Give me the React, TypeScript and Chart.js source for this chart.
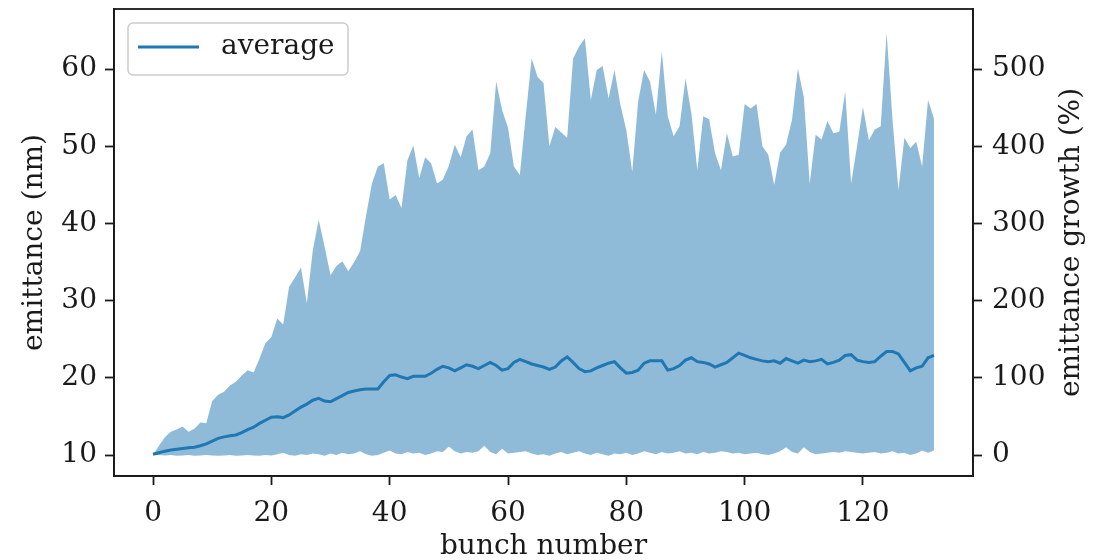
import React, { useEffect, useRef } from "react";
import { Chart, registerables } from "chart.js";

Chart.register(...registerables);

// emittance (nm) per bunch, bunch 0..132
const upperEmittance = [
  10.0, 11.2, 12.3, 13.0, 13.3, 13.7, 13.0, 13.4, 14.2, 14.1,
  17.0, 17.8, 18.2, 19.0, 19.5, 20.3, 21.0, 20.7, 22.5, 24.5,
  25.3, 27.7, 26.9, 31.8, 33.0, 34.3, 29.7, 36.5, 40.5, 37.0,
  33.3, 34.5, 35.1, 33.8, 35.0, 36.4, 41.0, 45.2, 47.4, 47.8,
  43.1, 43.7, 42.0, 48.2, 50.1, 45.9, 48.6, 47.8, 45.2, 45.7,
  47.5, 50.2, 48.6, 51.3, 52.2, 46.9, 47.4, 49.1, 58.4, 54.7,
  52.4, 47.4, 46.3, 54.0, 61.4, 59.0, 58.2, 50.0, 52.5, 51.8,
  51.1, 61.4, 62.9, 64.0, 56.0, 59.9, 60.4, 56.2, 59.9, 55.4,
  52.1, 46.7, 55.8, 59.9, 58.4, 54.1, 62.3, 53.9, 51.3, 52.6,
  58.8, 54.3, 46.9, 53.9, 53.5, 49.1, 46.9, 51.7, 48.7, 48.9,
  55.5, 54.9, 55.5, 50.0, 48.9, 45.0, 49.2, 50.2, 53.4, 60.1,
  56.4, 45.2, 51.5, 50.9, 53.3, 51.7, 51.9, 57.1, 45.2, 50.0,
  55.1, 50.8, 52.2, 52.6, 64.7, 53.4, 44.3, 51.1, 49.8, 50.6,
  47.4, 56.0, 53.6,
];

const averageEmittance = [
  10.1, 10.3, 10.5, 10.65, 10.75, 10.85, 10.95, 11.0, 11.2, 11.45,
  11.8, 12.15, 12.35, 12.5, 12.6, 12.9, 13.3, 13.6, 14.1, 14.5,
  14.9, 14.95, 14.85, 15.2, 15.7, 16.2, 16.6, 17.1, 17.35, 17.0,
  16.9, 17.3, 17.7, 18.1, 18.3, 18.45, 18.55, 18.55, 18.55, 19.5,
  20.3, 20.4, 20.1, 19.9, 20.2, 20.2, 20.2, 20.6, 21.1, 21.5,
  21.3, 20.9, 21.3, 21.7, 21.5, 21.2, 21.6, 22.0, 21.6, 21.0,
  21.2, 22.0, 22.4, 22.1, 21.8, 21.6, 21.4, 21.1, 21.4, 22.2,
  22.7, 22.0, 21.2, 20.8, 20.9, 21.3, 21.6, 21.9, 22.1, 21.3,
  20.6, 20.7, 21.0, 21.9, 22.2, 22.2, 22.2, 21.0, 21.2, 21.6,
  22.3, 22.6, 22.1, 22.0, 21.8, 21.4, 21.7, 22.0, 22.6, 23.2,
  22.9, 22.6, 22.4, 22.2, 22.1, 22.2, 21.9, 22.5, 22.2, 21.9,
  22.3, 22.1, 22.2, 22.4, 21.8, 22.0, 22.3, 22.9, 23.0, 22.3,
  22.1, 22.0, 22.1, 22.8, 23.4, 23.4, 23.1, 22.0, 20.9, 21.3,
  21.5, 22.6, 22.9,
];

const lowerEmittance = [
  10.0, 10.0, 9.95, 10.0, 9.9, 9.95, 10.0, 9.9, 9.95, 10.0,
  9.95, 9.9, 9.95, 10.0, 9.9, 9.95, 10.0, 9.95, 9.9, 10.0,
  9.95, 10.1, 10.3, 10.0, 9.9, 10.1, 10.0, 10.2, 10.1, 9.9,
  10.2, 10.0, 10.3, 10.1, 10.2, 10.5, 10.1, 9.9, 10.0, 10.3,
  10.6, 10.2, 10.1, 10.4, 10.2, 10.3, 10.0, 10.2, 10.5, 10.4,
  11.1, 10.5, 10.2, 10.4, 10.3, 10.5, 11.2, 10.4, 10.1, 10.8,
  10.2, 10.3, 10.4, 10.5, 10.2, 10.0, 10.1, 9.9, 10.2, 10.4,
  10.1, 10.3, 10.5, 10.2, 10.0, 10.3, 10.1, 9.9, 10.2, 10.1,
  10.3, 10.0, 10.2, 10.5, 10.3, 10.1, 10.4, 10.2, 10.3, 10.5,
  10.2, 10.3, 10.1, 10.4, 10.2, 10.3, 10.5, 10.4, 10.2, 10.3,
  10.1, 10.2, 10.3, 10.1, 10.0, 10.2, 10.5, 11.0, 10.4, 10.2,
  11.0, 10.4, 10.1, 10.2, 10.3, 10.4, 10.3, 10.5, 10.4, 10.3,
  10.2, 10.3, 10.4, 10.2, 10.3, 10.5, 10.2, 10.3, 10.0, 10.2,
  10.6, 10.3, 10.6,
];

const xTicks = [0, 20, 40, 60, 80, 100, 120];
const leftTicks = [10, 20, 30, 40, 50, 60];
const rightTicks = [0, 100, 200, 300, 400, 500];

const FAMILY = "'DejaVu Serif', serif";
const FS = 28;
const BLUE = "#1f77b4";
const INK = "#1a1a1a";

export default function App() {
  const ref = useRef<HTMLCanvasElement>(null);

  useEffect(() => {
    if (!ref.current) return;
    const pts = (arr: number[]) => arr.map((y, i) => ({ x: i, y }));

    const decor = {
      id: "decor",
      afterDraw(chart: any) {
        const { ctx, chartArea: a } = chart;
        ctx.save();
        // frame
        ctx.strokeStyle = INK;
        ctx.lineWidth = 1.8;
        ctx.strokeRect(a.left, a.top, a.right - a.left, a.bottom - a.top);
        // legend
        const lx = 128, ly = 23, lw = 220, lh = 52, r = 5;
        ctx.beginPath();
        ctx.moveTo(lx + r, ly);
        ctx.arcTo(lx + lw, ly, lx + lw, ly + lh, r);
        ctx.arcTo(lx + lw, ly + lh, lx, ly + lh, r);
        ctx.arcTo(lx, ly + lh, lx, ly, r);
        ctx.arcTo(lx, ly, lx + lw, ly, r);
        ctx.closePath();
        ctx.fillStyle = "rgba(255,255,255,0.8)";
        ctx.fill();
        ctx.strokeStyle = "#cccccc";
        ctx.lineWidth = 1.5;
        ctx.stroke();
        ctx.beginPath();
        ctx.moveTo(138, 47);
        ctx.lineTo(199, 47);
        ctx.strokeStyle = BLUE;
        ctx.lineWidth = 3;
        ctx.stroke();
        ctx.fillStyle = INK;
        ctx.font = `${FS}px ${FAMILY}`;
        ctx.textAlign = "left";
        ctx.textBaseline = "middle";
        ctx.fillText("average", 221, 47);
        // right axis title (reads bottom to top)
        ctx.translate(1072, (a.top + a.bottom) / 2);
        ctx.rotate(-Math.PI / 2);
        ctx.textAlign = "center";
        ctx.fillText("emittance growth (%)", 0, 0);
        ctx.restore();
      },
    };

    const tickGrid = {
      display: true,
      drawOnChartArea: false,
      drawTicks: true,
      tickLength: 9,
      tickWidth: 1.8,
      tickColor: INK,
    };
    const font = { family: FAMILY, size: FS };
    const noPad = (s: any) => {
      s.paddingTop = 0;
      s.paddingBottom = 0;
      s.paddingLeft = 0;
      s.paddingRight = 0;
    };

    const chart = new Chart(ref.current, {
      type: "line",
      data: {
        datasets: [
          {
            label: "average",
            data: pts(averageEmittance),
            borderColor: BLUE,
            borderWidth: 3,
            pointRadius: 0,
            fill: false,
            yAxisID: "y",
            order: 0,
          },
          {
            label: "max",
            data: pts(upperEmittance),
            borderColor: "rgba(0,0,0,0)",
            borderWidth: 0.01,
            backgroundColor: "rgba(31,119,180,0.5)",
            pointRadius: 0,
            fill: 2,
            yAxisID: "y",
            order: 1,
          },
          {
            label: "min",
            data: pts(lowerEmittance),
            borderColor: "rgba(0,0,0,0)",
            borderWidth: 0.01,
            pointRadius: 0,
            fill: false,
            yAxisID: "y",
            order: 2,
          },
        ],
      },
      options: {
        responsive: false,
        animation: false,
        events: [],
        layout: { padding: { top: 9, left: 0, right: 0, bottom: 0 } },
        plugins: { legend: { display: false }, tooltip: { enabled: false } },
        scales: {
          x: {
            type: "linear",
            min: -6.6,
            max: 138.6,
            afterBuildTicks: (s: any) => {
              s.ticks = xTicks.map((v) => ({ value: v }));
            },
            afterFit: (s: any) => {
              s.height = 84;
              noPad(s);
            },
            grid: tickGrid,
            border: { display: true, color: INK, width: 1.8 },
            ticks: { font, color: INK, padding: 12, maxRotation: 0, autoSkip: false },
            title: {
              display: true,
              text: "bunch number",
              font,
              color: INK,
              padding: { top: 0, bottom: -4 },
            },
          },
          y: {
            type: "linear",
            position: "left",
            min: 7.28,
            max: 67.8,
            afterBuildTicks: (s: any) => {
              s.ticks = leftTicks.map((v) => ({ value: v }));
            },
            afterFit: (s: any) => {
              s.width = 114;
              noPad(s);
            },
            grid: tickGrid,
            border: { display: true, color: INK, width: 1.8 },
            ticks: { font, color: INK, padding: 8 },
            title: {
              display: true,
              text: "emittance (nm)",
              font,
              color: INK,
              padding: { top: 18, bottom: 0 },
            },
          },
          y2: {
            type: "linear",
            position: "right",
            min: -27.2,
            max: 578,
            afterBuildTicks: (s: any) => {
              s.ticks = rightTicks.map((v) => ({ value: v }));
            },
            afterFit: (s: any) => {
              s.width = 133;
              noPad(s);
            },
            grid: tickGrid,
            border: { display: true, color: INK, width: 1.8 },
            ticks: { font, color: INK, padding: 10 },
          },
        },
      },
      plugins: [decor],
    } as any);

    return () => chart.destroy();
  }, []);

  return (
    <div style={{ position: "absolute", left: 0, top: 0, width: 1106, height: 560, background: "#fff" }}>
      <canvas ref={ref} width={1106} height={560} style={{ display: "block" }} />
    </div>
  );
}
